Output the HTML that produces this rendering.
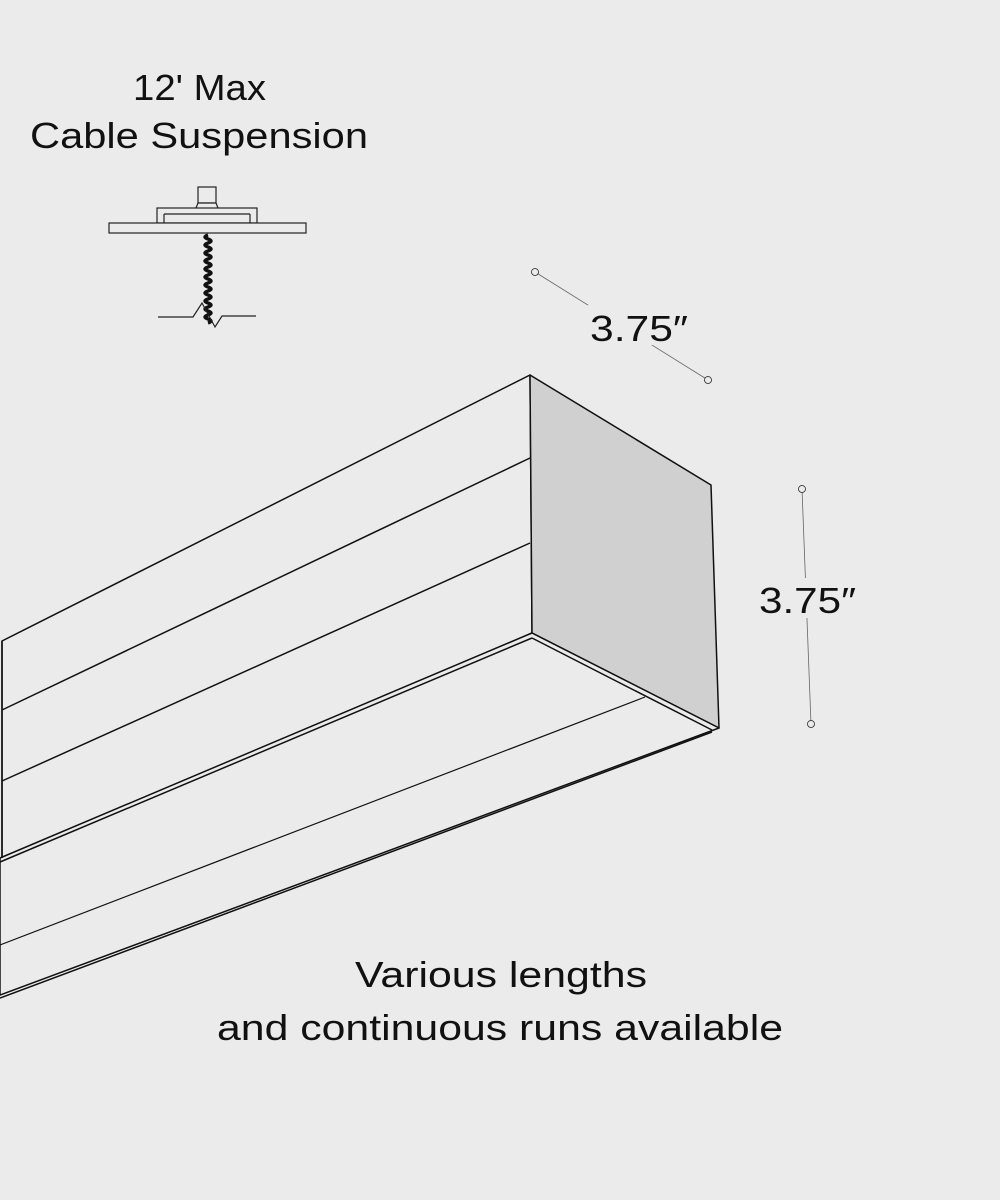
<!DOCTYPE html>
<html><head><style>
html,body{margin:0;padding:0;background:#ebebeb;}
svg{display:block}
text{font-family:"Liberation Sans",sans-serif;fill:#111;}
</style></head><body>
<svg width="1000" height="1200" viewBox="0 0 1000 1200">
<rect width="1000" height="1200" fill="#ebebeb"/>
<text x="133" y="100" font-size="36" textLength="133" lengthAdjust="spacingAndGlyphs">12' Max</text>
<text x="30" y="148" font-size="36" textLength="338" lengthAdjust="spacingAndGlyphs">Cable Suspension</text>
<!-- canopy -->
<g stroke="#222" stroke-width="1.2" fill="#ebebeb">
<rect x="198" y="187" width="18" height="16"/>
<path d="M196 208 L198 203 L216 203 L218 208"/>
<rect x="157" y="208" width="100" height="15"/>
<line x1="164" y1="214" x2="250" y2="214"/>
<line x1="164" y1="214" x2="164" y2="223"/>
<line x1="250" y1="214" x2="250" y2="223"/>
<rect x="109" y="223" width="197" height="10"/>
</g>
<path d="M208 235 q-6 2 0 4 q6 2 0 4 q-6 2 0 4 q6 2 0 4 q-6 2 0 4 q6 2 0 4 q-6 2 0 4 q6 2 0 4 q-6 2 0 4 q6 2 0 4 q-6 2 0 4 q6 2 0 4 q-6 2 0 4 q6 2 0 4 q-6 2 0 4 q6 2 0 4 q-6 2 0 4 q6 2 0 4 q-6 2 0 4 q6 2 0 4 q-6 2 0 4 q6 2 0 4" stroke="#111" stroke-width="3.5" fill="none"/>
<polyline points="158,317 193,317 202,303 215,327 222,316 256,316" stroke="#222" stroke-width="1.2" fill="none"/>
<!-- fixture -->
<g stroke="#111" stroke-width="1.5" stroke-linejoin="round">
<polygon points="2,641 530,375 532,633 2,858" fill="#ebebeb"/>
<polygon points="530,375 711,485 719,728 532,633" fill="#d0d0d0"/>
<polygon points="532,633 719,728 0,995 0,858" fill="#ebebeb"/>
<line x1="530" y1="458" x2="2" y2="710"/>
<line x1="530" y1="543" x2="2" y2="781"/>
<line x1="532" y1="638" x2="0" y2="862"/>
<line x1="532" y1="638" x2="712" y2="730"/>
<line x1="645" y1="697" x2="0" y2="945" stroke-width="1.2"/>
<line x1="712" y1="732" x2="0" y2="998"/>
</g>
<line x1="2" y1="641" x2="2" y2="858" stroke="#111" stroke-width="1.5"/>
<!-- dims -->
<g stroke="#666" stroke-width="0.8" fill="#ebebeb">
<line x1="535" y1="272" x2="708" y2="380"/>
<line x1="802" y1="489" x2="811" y2="724"/>
<circle cx="535" cy="272" r="3.5" stroke="#222"/>
<circle cx="708" cy="380" r="3.5" stroke="#222"/>
<circle cx="802" cy="489" r="3.5" stroke="#222"/>
<circle cx="811" cy="724" r="3.5" stroke="#222"/>
</g>
<rect x="588" y="305" width="104" height="40" fill="#ebebeb"/>
<text x="590" y="341" font-size="36" textLength="98" lengthAdjust="spacingAndGlyphs">3.75″</text>
<rect x="757" y="578" width="102" height="40" fill="#ebebeb"/>
<text x="759" y="613" font-size="36" textLength="97" lengthAdjust="spacingAndGlyphs">3.75″</text>
<text x="355" y="987" font-size="36" textLength="292" lengthAdjust="spacingAndGlyphs">Various lengths</text>
<text x="217" y="1040" font-size="36" textLength="566" lengthAdjust="spacingAndGlyphs">and continuous runs available</text>
</svg>
</body></html>
